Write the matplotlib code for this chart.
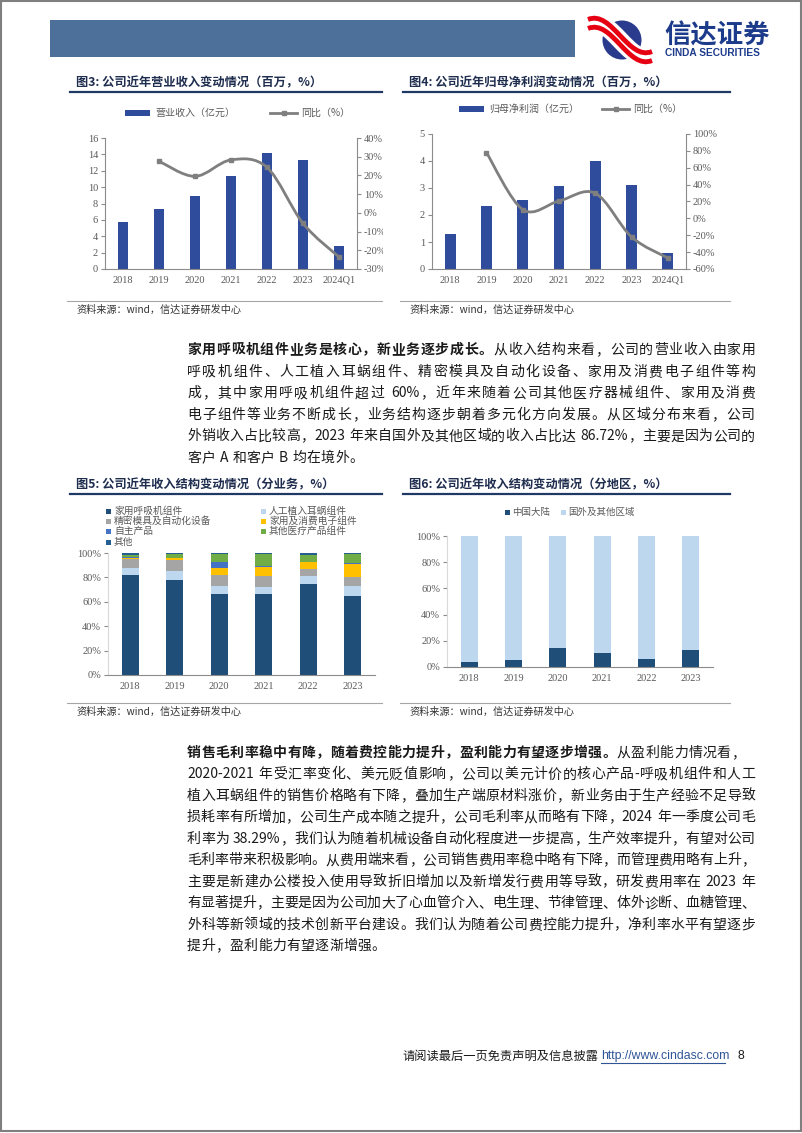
import re
import matplotlib
matplotlib.use('Agg')
import matplotlib.pyplot as plt
import numpy as np
from matplotlib.patches import Rectangle, Circle, PathPatch
from matplotlib.path import Path
from matplotlib.transforms import Bbox, TransformedBbox

W, H = 802, 1133
CJK = ['Noto Sans CJK SC', 'DejaVu Sans']
SERIF = ['Liberation Serif', 'Noto Sans CJK SC']
plt.rcParams['font.family'] = CJK

# ---------------- data ----------------
years7 = ['2018', '2019', '2020', '2021', '2022', '2023', '2024Q1']
revenue = [5.78, 7.37, 8.88, 11.40, 14.13, 13.36, 2.81]
revenue_yoy = [27.6, 19.5, 28.3, 24.3, -5.6, -23.6]          # from 2019
profit = [1.30, 2.32, 2.57, 3.09, 4.01, 3.12, 0.58]
profit_yoy = [78.0, 10.5, 20.6, 29.8, -22.0, -47.0]          # from 2019

years6 = ['2018', '2019', '2020', '2021', '2022', '2023']
seg_names = ['家用呼吸机组件', '人工植入耳蜗组件', '精密模具及自动化设备',
             '家用及消费电子组件', '自主产品', '其他医疗产品组件', '其他']
seg_resp = [81.9, 77.7, 66.5, 66.5, 74.5, 64.6]
seg_cochlear = [5.7, 7.7, 6.6, 6.0, 6.8, 8.5]
seg_mold = [7.4, 9.1, 8.8, 8.8, 5.5, 7.1]
seg_consumer = [1.2, 1.1, 5.5, 7.4, 5.5, 11.0]
seg_own = [0.3, 0.3, 5.2, 0.6, 0.6, 0.6]
seg_other_med = [2.1, 3.1, 6.9, 10.2, 5.5, 7.2]
seg_other = [1.4, 1.0, 0.5, 0.5, 1.6, 1.0]

region_names = ['中国大陆', '国外及其他区域']
region_china = [4.0, 5.0, 14.5, 10.5, 6.0, 13.28]
region_overseas = [96.0, 95.0, 85.5, 89.5, 94.0, 86.72]

# ---------------- styles ----------------
BAR_BLUE = '#2F4B9B'
LINE_GREY = '#7F7F7F'
SEG_COLORS = ['#1F4E79', '#BDD7EE', '#A5A5A5', '#FFC000', '#4472C4', '#70AD47', '#255E91']
REG_COLORS = ['#1F4E79', '#BDD7EE']
TICK_C = '#595959'
AX_C = '#8C8C8C'
NAVY = '#1F3864'

fig = plt.figure(figsize=(W / 100, H / 100), dpi=100)
fig.patch.set_facecolor('white')

axp = fig.add_axes([0, 0, 1, 1])
axp.set_xlim(0, W)
axp.set_ylim(H, 0)
axp.axis('off')
axp.set_zorder(0)


def add_ax(x0, y0, x1, y1):
    a = fig.add_axes([x0 / W, 1 - y1 / H, (x1 - x0) / W, (y1 - y0) / H])
    a.set_facecolor('none')
    a.set_zorder(2)
    return a


def style_ax(a, left=True, right=False):
    a.spines['top'].set_visible(False)
    a.spines['right'].set_visible(right)
    a.spines['left'].set_visible(left)
    for s in ['left', 'right', 'bottom']:
        a.spines[s].set_color(AX_C)
        a.spines[s].set_linewidth(0.8)
    a.tick_params(axis='y', direction='out', length=3, width=0.8, color=AX_C,
                  labelsize=7.5, labelcolor=TICK_C, pad=2)
    a.tick_params(axis='x', length=0, labelsize=7.5, labelcolor=TICK_C, pad=5)


def smooth_path(xs, ys):
    pts = np.column_stack([xs, ys]).astype(float)
    n = len(pts)
    verts = [pts[0]]
    codes = [Path.MOVETO]
    for i in range(n - 1):
        p0 = pts[i - 1] if i > 0 else pts[i]
        p1, p2 = pts[i], pts[i + 1]
        p3 = pts[i + 2] if i + 2 < n else pts[i + 1]
        verts += [p1 + (p2 - p0) / 6, p2 - (p3 - p1) / 6, p2]
        codes += [Path.CURVE4] * 3
    return Path(verts, codes)


def serif_ticks(a):
    for lab in a.get_xticklabels() + a.get_yticklabels():
        lab.set_fontfamily(SERIF)


# ---------------- page decorations ----------------
axp.add_patch(Rectangle((1, 1), W - 2, H - 3, fill=False, edgecolor='#7F7F7F', lw=1.5))
axp.add_patch(Rectangle((50, 20), 525, 37, facecolor='#4C7099', edgecolor='none'))
# logo
axp.add_patch(Circle((622, 40), 19.5, facecolor='#2A3A8C', edgecolor='none'))
sw = Path([(588, 24), (612, 14), (628, 66), (652, 56)],
          [Path.MOVETO, Path.CURVE4, Path.CURVE4, Path.CURVE4])
axp.add_patch(PathPatch(sw, facecolor='none', edgecolor='white', lw=13, capstyle='butt'))
for dy in (-4.5, 4.5):
    sw2 = Path([(588, 24 + dy), (612, 14 + dy), (628, 66 + dy), (652, 56 + dy)],
               [Path.MOVETO, Path.CURVE4, Path.CURVE4, Path.CURVE4])
    axp.add_patch(PathPatch(sw2, facecolor='none', edgecolor='#E60012', lw=3.5, capstyle='butt'))
axp.text(664, 36, '信达证券', fontsize=19, fontweight='bold', color='#1D3B8B',
         ha='left', va='center')
axp.text(665, 53, 'CINDA SECURITIES', fontsize=7.3, fontweight='bold', color='#1D3B8B',
         family=['Liberation Sans'], ha='left', va='center')


def chart_frame(x0, x1, ytitle, title, ysrc):
    axp.text(x0 + 6, ytitle, title, fontsize=8.8, fontweight='bold', color='#1F2D4E',
             ha='left', va='center')
    axp.plot([x0, x1], [ytitle + 9, ytitle + 9], color=NAVY, lw=1.6)
    axp.plot([x0 - 3, x1], [ysrc - 9, ysrc - 9], color='#A6A6A6', lw=0.8)
    axp.text(x0 + 6, ysrc, '资料来源：wind，信达证券研发中心', fontsize=7.3, color='#333333',
             ha='left', va='center')

chart_frame(70, 382, 83, '图3: 公司近年营业收入变动情况（百万，%）', 310)
chart_frame(403, 730, 83, '图4: 公司近年归母净利润变动情况（百万，%）', 310)
chart_frame(70, 382, 485, '图5: 公司近年收入结构变动情况（分业务，%）', 712)
chart_frame(403, 730, 485, '图6: 公司近年收入结构变动情况（分地区，%）', 712)

# ---------------- chart 3 ----------------
x7 = np.arange(len(years7))
ax3 = add_ax(105, 138, 357, 269)
ax3.bar(x7, revenue, width=0.3, color=BAR_BLUE)
ax3.set_xlim(-0.5, 6.5)
ax3.set_ylim(0, 16)
ax3.set_yticks(np.arange(0, 17, 2))
ax3.set_xticks(x7)
ax3.set_xticklabels(years7)
style_ax(ax3, left=True, right=False)
ax3r = ax3.twinx()
ax3r.set_zorder(3)
ax3r.set_facecolor('none')
ax3r.set_ylim(-30, 40)
ax3r.set_yticks(np.arange(-30, 41, 10))
ax3r.set_yticklabels([f'{v}%' for v in range(-30, 41, 10)])
style_ax(ax3r, left=False, right=True)
ax3r.spines['bottom'].set_visible(False)
ax3r.add_patch(PathPatch(smooth_path(x7[1:], revenue_yoy), facecolor='none',
                         edgecolor=LINE_GREY, lw=2))
ax3r.plot(x7[1:], revenue_yoy, 's', ms=2.5, color=LINE_GREY)

# ---------------- chart 4 ----------------
ax4 = add_ax(432, 134, 686, 269)
ax4.bar(x7, profit, width=0.3, color=BAR_BLUE)
ax4.set_xlim(-0.5, 6.5)
ax4.set_ylim(0, 5)
ax4.set_yticks(np.arange(0, 6, 1))
ax4.set_xticks(x7)
ax4.set_xticklabels(years7)
style_ax(ax4, left=True, right=False)
ax4r = ax4.twinx()
ax4r.set_zorder(3)
ax4r.set_facecolor('none')
ax4r.set_ylim(-60, 100)
ax4r.set_yticks(np.arange(-60, 101, 20))
ax4r.set_yticklabels([f'{v}%' for v in range(-60, 101, 20)])
style_ax(ax4r, left=False, right=True)
ax4r.spines['bottom'].set_visible(False)
ax4r.add_patch(PathPatch(smooth_path(x7[1:], profit_yoy), facecolor='none',
                         edgecolor=LINE_GREY, lw=2))
ax4r.plot(x7[1:], profit_yoy, 's', ms=2.5, color=LINE_GREY)


def bar_line_legend(xp, y, bar_label, xl, line_label):
    axp.add_patch(Rectangle((xp, y - 3), 25, 6, facecolor=BAR_BLUE, edgecolor='none'))
    axp.text(xp + 30, y, bar_label, fontsize=7.2, color=TICK_C, ha='left', va='center')
    axp.plot([xl, xl + 27], [y, y], color=LINE_GREY, lw=2)
    axp.plot([xl + 13.5], [y], 's', ms=2.5, color=LINE_GREY)
    axp.text(xl + 31, y, line_label, fontsize=7.2, color=TICK_C, ha='left', va='center')

bar_line_legend(125, 113, '营业收入（亿元）', 270, '同比（%）')
bar_line_legend(459, 109, '归母净利润（亿元）', 602, '同比（%）')

# ---------------- chart 5 ----------------
x6 = np.arange(len(years6))
ax5 = add_ax(108, 553, 375, 675)
segs = [seg_resp, seg_cochlear, seg_mold, seg_consumer, seg_own, seg_other_med, seg_other]
bottom = np.zeros(len(years6))
for vals, c in zip(segs, SEG_COLORS):
    ax5.bar(x6, vals, bottom=bottom, width=0.39, color=c)
    bottom += np.array(vals)
ax5.set_xlim(-0.5, 5.5)
ax5.set_ylim(0, 100)
ax5.set_yticks(np.arange(0, 101, 20))
ax5.set_yticklabels([f'{v}%' for v in range(0, 101, 20)])
ax5.set_xticks(x6)
ax5.set_xticklabels(years6)
style_ax(ax5, left=True)
ax5.spines['left'].set_color('#D9D9D9')

leg_pos = [(108, 511), (263, 511), (108, 521), (263, 521), (108, 531), (263, 531), (108, 542)]
for (lx, ly), name, c in zip(leg_pos, seg_names, SEG_COLORS):
    axp.add_patch(Rectangle((lx - 2, ly - 2.5), 5, 5, facecolor=c, edgecolor='none'))
    axp.text(lx + 6, ly, name, fontsize=7, color=TICK_C, ha='left', va='center')

# ---------------- chart 6 ----------------
ax6 = add_ax(447, 536, 713, 667)
ax6.bar(x6, region_china, width=0.39, color=REG_COLORS[0])
ax6.bar(x6, region_overseas, bottom=region_china, width=0.39, color=REG_COLORS[1])
ax6.set_xlim(-0.5, 5.5)
ax6.set_ylim(0, 100)
ax6.set_yticks(np.arange(0, 101, 20))
ax6.set_yticklabels([f'{v}%' for v in range(0, 101, 20)])
ax6.set_xticks(x6)
ax6.set_xticklabels(years6)
style_ax(ax6, left=True)
ax6.spines['left'].set_color('#D9D9D9')
for (lx, ly), name, c in zip([(507, 512), (563, 512)], region_names, REG_COLORS):
    axp.add_patch(Rectangle((lx - 2, ly - 2.5), 5, 5, facecolor=c, edgecolor='none'))
    axp.text(lx + 5, ly, name, fontsize=6.8, color=TICK_C, ha='left', va='center')

# ---------------- body text ----------------
fig.canvas.draw()
renderer = fig.canvas.get_renderer()
FS = 10
_cache = {}


def tok_width(tok, weight):
    key = (tok, weight)
    if key not in _cache:
        if tok == ' ':
            _cache[key] = FS * 100 / 72 * 0.28
        else:
            t = axp.text(0, 0, tok, fontsize=FS, fontweight=weight)
            _cache[key] = t.get_window_extent(renderer).width
            t.remove()
    return _cache[key]


def draw_line(segments, x0, x1, y, justify=True, gap_default=1.0):
    toks = []
    for txt, wt in segments:
        for tk in re.findall(r'[A-Za-z0-9.%\-]+| |.', txt):
            toks.append((tk, wt))
    widths = [tok_width(t, w) for t, w in toks]
    total = sum(widths)
    n = len(toks)
    gap = (x1 - x0 - total) / (n - 1) if (justify and n > 1) else gap_default
    x = x0
    for (t, w), wd in zip(toks, widths):
        if t != ' ':
            axp.text(x, y, t, fontsize=FS, fontweight=w, color='#1A1A1A',
                     ha='left', va='center')
        x += wd + gap
    return gap


B, N = 'bold', 'normal'
para1 = [
    [('家用呼吸机组件业务是核心，新业务逐步成长。', B), ('从收入结构来看，公司的营业收入由家用', N)],
    [('呼吸机组件、人工植入耳蜗组件、精密模具及自动化设备、家用及消费电子组件等构', N)],
    [('成，其中家用呼吸机组件超过 60%，近年来随着公司其他医疗器械组件、家用及消费', N)],
    [('电子组件等业务不断成长，业务结构逐步朝着多元化方向发展。从区域分布来看，公司', N)],
    [('外销收入占比较高，2023 年来自国外及其他区域的收入占比达 86.72%，主要是因为公司的', N)],
    [('客户 A 和客户 B 均在境外。', N)],
]
para2 = [
    [('销售毛利率稳中有降，随着费控能力提升，盈利能力有望逐步增强。', B), ('从盈利能力情况看，', N)],
    [('2020-2021 年受汇率变化、美元贬值影响，公司以美元计价的核心产品-呼吸机组件和人工', N)],
    [('植入耳蜗组件的销售价格略有下降，叠加生产端原材料涨价，新业务由于生产经验不足导致', N)],
    [('损耗率有所增加，公司生产成本随之提升，公司毛利率从而略有下降，2024 年一季度公司毛', N)],
    [('利率为 38.29%，我们认为随着机械设备自动化程度进一步提高，生产效率提升，有望对公司', N)],
    [('毛利率带来积极影响。从费用端来看，公司销售费用率稳中略有下降，而管理费用略有上升，', N)],
    [('主要是新建办公楼投入使用导致折旧增加以及新增发行费用等导致，研发费用率在 2023 年', N)],
    [('有显著提升，主要是因为公司加大了心血管介入、电生理、节律管理、体外诊断、血糖管理、', N)],
    [('外科等新领域的技术创新平台建设。我们认为随着公司费控能力提升，净利率水平有望逐步', N)],
    [('提升，盈利能力有望逐渐增强。', N)],
]

X0, X1 = 187, 755
g = 1.0
for i, segs_ in enumerate(para1):
    last = i == len(para1) - 1
    gg = draw_line(segs_, X0, X1, 350 + i * 21.6, justify=not last, gap_default=g)
    if not last:
        g = gg
for i, segs_ in enumerate(para2):
    last = i == len(para2) - 1
    right = 745 if i == 0 else X1
    gg = draw_line(segs_, X0, right, 753 + i * 21.45, justify=not last, gap_default=g)
    if not last:
        g = gg

# ---------------- footer ----------------
axp.text(402, 1056, '请阅读最后一页免责声明及信息披露', fontsize=8.8, color='#1A1A1A',
         ha='left', va='center')
axp.text(601, 1056, 'http://www.cindasc.com', fontsize=8.8, color='#2F5597',
         family=['Liberation Sans'], ha='left', va='center')
axp.plot([601, 725], [1063, 1063], color='#2F5597', lw=0.8)
axp.text(738, 1056, '8', fontsize=8.8, color='#1A1A1A', family=['Liberation Sans'],
         ha='left', va='center')

for a in (ax3, ax3r, ax4, ax4r, ax5, ax6):
    serif_ticks(a)
clip = TransformedBbox(Bbox([[0, 0], [383 / W, 1]]), fig.transFigure)
for tk in ax3r.yaxis.get_major_ticks():
    tk.label2.set_clip_on(True)
    tk.label2.set_clip_box(clip)

fig.savefig('out.png', dpi=100, facecolor='white')
